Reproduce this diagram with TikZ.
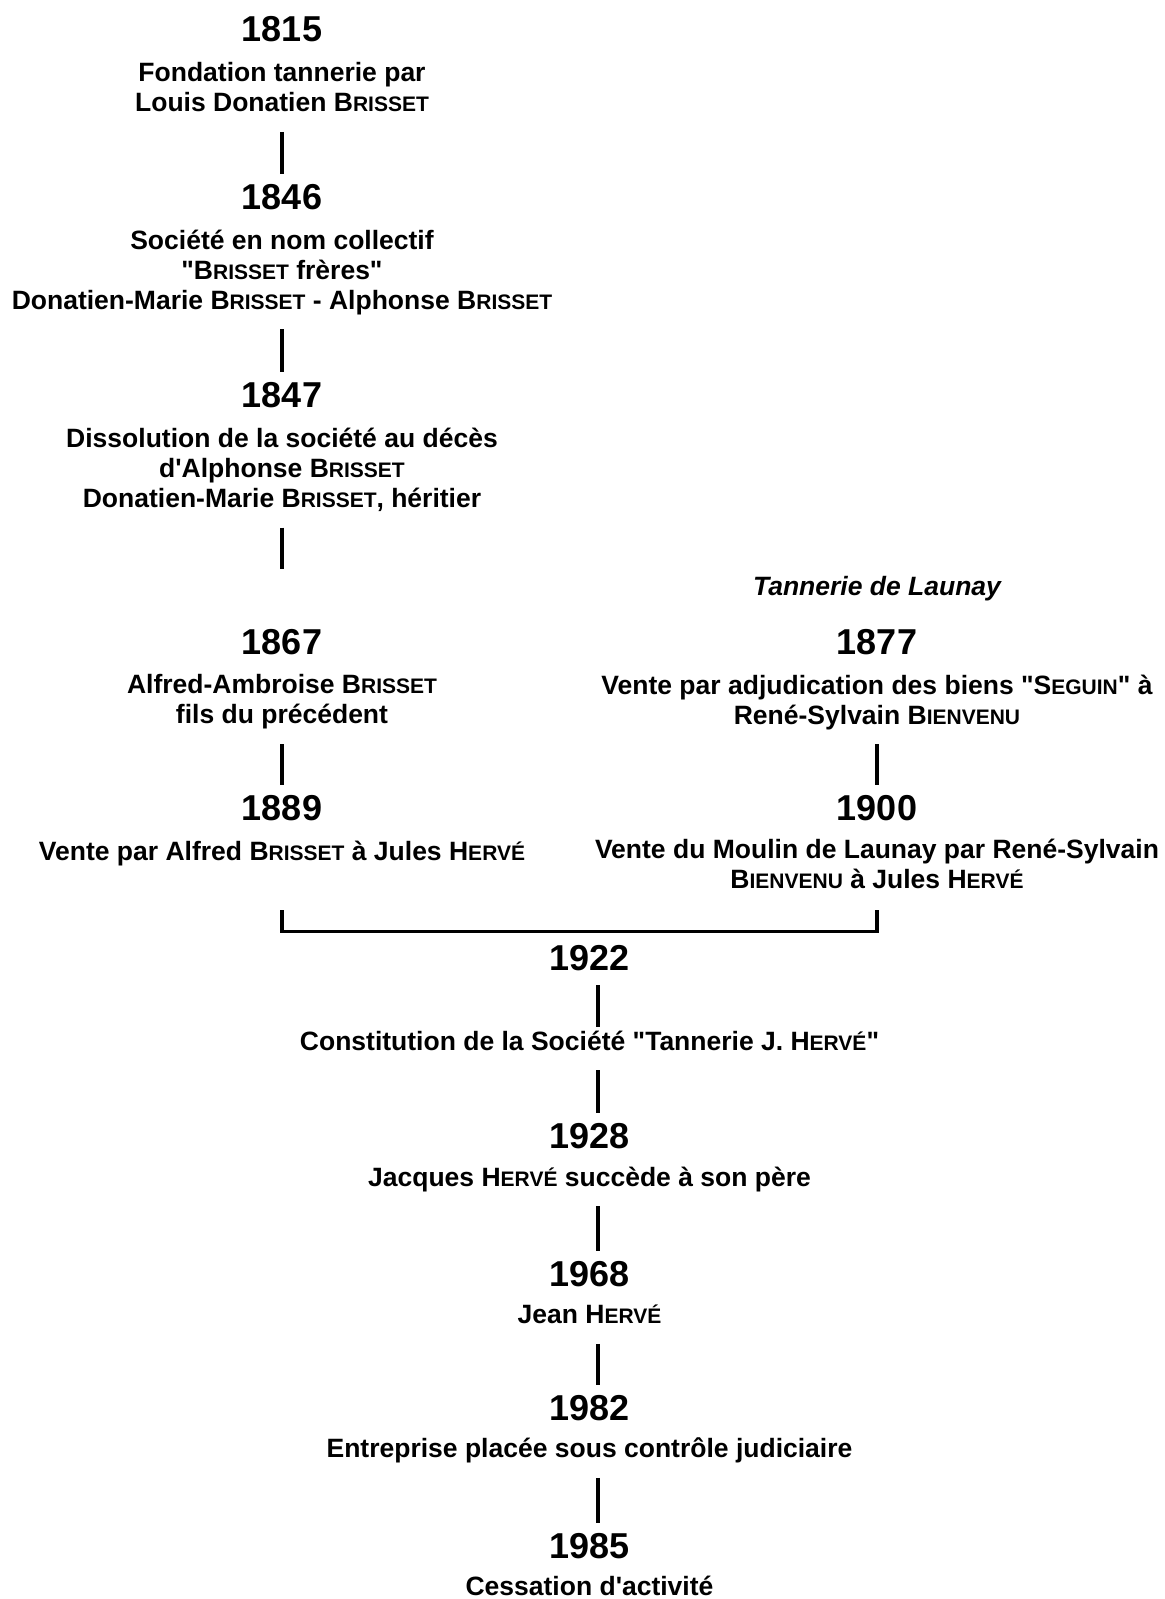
\documentclass[tikz,border=0pt]{standalone}
\usepackage{fontspec}
\setmainfont{Liberation Sans}[Ligatures=TeXOff]
\usetikzlibrary{positioning}
\newcommand{\pc}[1]{{\fontsize{21}{21}\selectfont #1}}
\newcommand{\Brisset}{B\pc{RISSET}}
\newcommand{\Herve}{H\pc{ERVÉ}}
\newcommand{\Bienvenu}{B\pc{IENVENU}}
\newcommand{\Seguin}{S\pc{EGUIN}}

\begin{document}
\begin{tikzpicture}[x=1pt, y=1pt, node distance=20pt]

\tikzset{year/.style={font=\fontsize{36}{40}\selectfont\bfseries, inner sep=0pt},
desc/.style={font=\fontsize{26.5}{30}\selectfont\bfseries, align=center, inner sep=0pt, execute at begin node=\strut, execute at end node=\strut},
link/.style={line width=3.8pt, shorten <=11pt, shorten >=10pt},
rlink/.style={link, transform canvas={xshift=8.5pt}},
bracket/.style={line width=3.8pt}}

\useasboundingbox (0,0) rectangle (1165,-1599);

% Tannerie Brisset
\node[year, anchor=base] (y1815) at (282,-41.7) {1815};
\node[desc, below=of y1815] (d1815) {Fondation tannerie par\\Louis Donatien \Brisset};
\node[year, anchor=base] (y1846) at (282,-209) {1846};
\node[desc, below=of y1846] (d1846) {Société en nom collectif\\"\Brisset{} frères"\\Donatien-Marie \Brisset{} - Alphonse \Brisset};
\node[year, anchor=base] (y1847) at (282,-407.3) {1847};
\node[desc, below=of y1847] (d1847) {Dissolution de la société au décès\\d'Alphonse \Brisset\\Donatien-Marie \Brisset, héritier};
\coordinate (c1847) at (282,-569.3);
\node[year, anchor=base] (y1867) at (282,-654) {1867};
\node[desc, below=of y1867] (d1867) {Alfred-Ambroise \Brisset\\fils du précédent};
\node[year, anchor=base] (y1889) at (282,-820.3) {1889};
\node[desc, below=18pt of y1889] (d1889) {Vente par Alfred \Brisset{} à Jules \Herve};

% Tannerie de Launay
\node[desc, anchor=base, font=\fontsize{26.5}{30}\selectfont\bfseries\itshape] (launay) at (877,-595) {Tannerie de Launay};
\node[year, anchor=base] (y1877) at (877,-654) {1877};
\node[desc, below=of y1877] (d1877) {Vente par adjudication des biens "\Seguin" à\\René-Sylvain \Bienvenu};
\node[year, anchor=base] (y1900) at (877,-820.7) {1900};
\node[desc, below=18pt of y1900] (d1900) {Vente du Moulin de Launay par René-Sylvain\\\Bienvenu{} à Jules \Herve};

% Tannerie Hervé
\coordinate (brL) at (282,-931.5);
\coordinate (brR) at (877,-931.5);
\node[year, anchor=base] (y1922) at (589.5,-970.7) {1922};
\node[desc, anchor=base] (d1922) at (589.5,-1050) {Constitution de la Société "Tannerie J. \Herve"};
\node[year, anchor=base] (y1928) at (589.5,-1148.3) {1928};
\node[desc, below=16pt of y1928] (d1928) {Jacques \Herve{} succède à son père};
\node[year, anchor=base] (y1968) at (589.5,-1286) {1968};
\node[desc, below=16pt of y1968] (d1968) {Jean \Herve};
\node[year, anchor=base] (y1982) at (589.5,-1420) {1982};
\node[desc, below=16pt of y1982] (d1982) {Entreprise placée sous contrôle judiciaire};
\node[year, anchor=base] (y1985) at (589.5,-1558) {1985};
\node[desc, below=16pt of y1985] (d1985) {Cessation d'activité};

% Links
\draw[link] (d1815) -- (y1846);
\draw[link] (d1846) -- (y1847);
\draw[link, shorten >=0pt] (d1847) -- (c1847);
\draw[link] (d1867) -- (y1889);
\draw[link] (d1877) -- (y1900);
\draw[bracket] (brL) ++(0,21.5) -- (brL) -- (brR) -- ++(0,21.5);
\draw[rlink, shorten <=14pt, shorten >=2pt] (y1922) -- (d1922);
\draw[rlink] (d1922) -- (y1928);
\draw[rlink] (d1928) -- (y1968);
\draw[rlink] (d1968) -- (y1982);
\draw[rlink] (d1982) -- (y1985);

\end{tikzpicture}
\end{document}
